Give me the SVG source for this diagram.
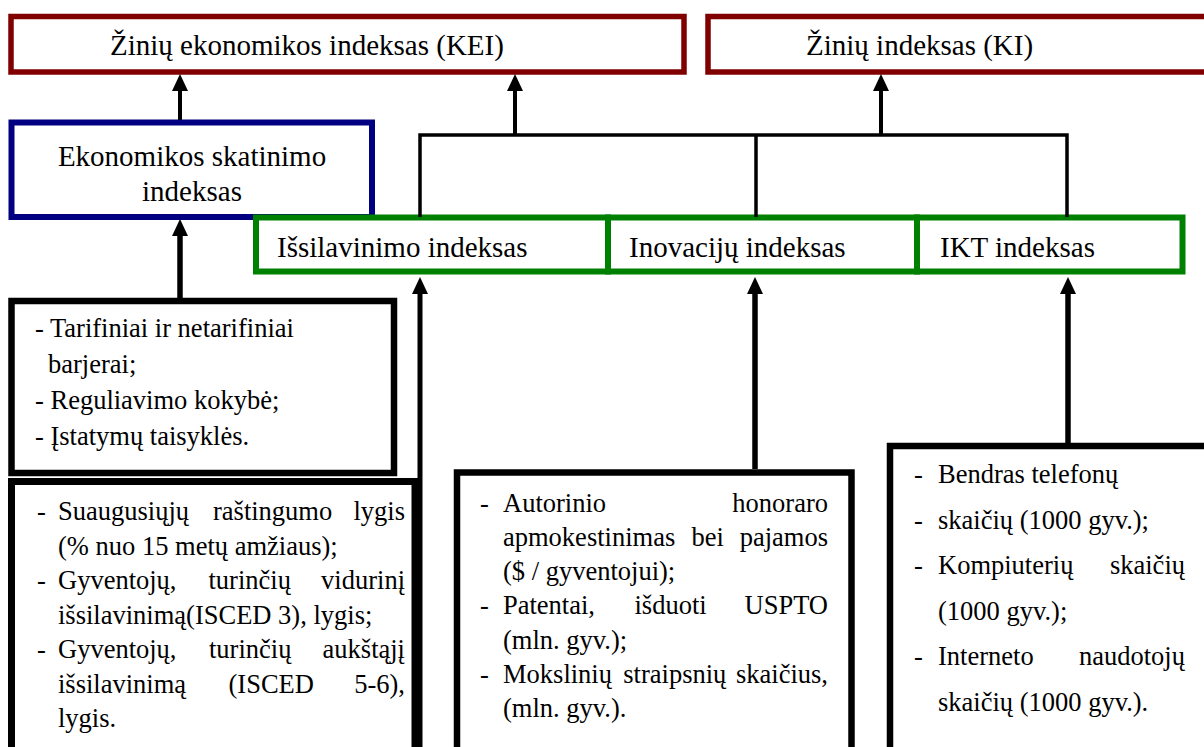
<svg xmlns="http://www.w3.org/2000/svg" width="1204" height="747" viewBox="0 0 1204 747">
<style>
text{font-family:"Liberation Serif","Times New Roman",serif;fill:#000}
.t29{font-size:29px}
.t26{font-size:29px}
.b{font-size:26.5px}
.e{text-anchor:end}
.m{text-anchor:middle}
.red{fill:#fff;stroke:#800000;stroke-width:5.5}
.blue{fill:#fff;stroke:#000080;stroke-width:6}
.green{fill:#fff;stroke:#008000;stroke-width:6}
.blk{fill:#fff;stroke:#000;stroke-width:6.5}
.ln{fill:none;stroke:#000;stroke-linecap:butt}
</style>
<defs>
<marker id="ah" markerUnits="userSpaceOnUse" markerWidth="17" markerHeight="16" refX="0" refY="8" orient="auto" viewBox="0 0 17 16">
<path d="M0,0 L17,8 L0,16 z" fill="#000"/>
</marker>
</defs>
<rect width="1204" height="747" fill="#fff"/>

<g id="kei">
<rect class="red" x="11" y="16.5" width="673" height="55.5"/>
<text class="t29" x="110" y="55">Žinių ekonomikos indeksas (KEI)</text>
</g>
<g id="ki">
<rect class="red" x="708" y="16.5" width="520" height="55.5"/>
<text class="t29" x="806" y="55">Žinių indeksas (KI)</text>
</g>
<g id="ekon">
<rect class="blue" x="11.5" y="122.5" width="360.5" height="94.5"/>
<text class="t26 m" x="192" y="165.5">Ekonomikos skatinimo</text>
<text class="t26 m" x="192" y="201">indeksas</text>
</g>
<g id="issilavinimo">
<rect class="green" x="256" y="217.5" width="352" height="54"/>
<text class="t29" x="277" y="257">Išsilavinimo indeksas</text>
</g>
<g id="inovaciju">
<rect class="green" x="608" y="217.5" width="309" height="54"/>
<text class="t29" x="629" y="257">Inovacijų indeksas</text>
</g>
<g id="ikt">
<rect class="green" x="917" y="217.5" width="265.5" height="54"/>
<text class="t29" x="940" y="257">IKT indeksas</text>
</g>

<g id="tarifiniai">
<rect class="blk" x="11.5" y="301" width="382.5" height="172"/>
<text class="b" x="35" y="337">- Tarifiniai ir netarifiniai</text>
<text class="b" x="48" y="372.5">barjerai;</text>
<text class="b" x="35" y="409">- Reguliavimo kokybė;</text>
<text class="b" x="35" y="445">- Įstatymų taisyklės.</text>
</g>

<g id="suaugusiuju">
<rect class="blk" x="11.5" y="481.5" width="403.5" height="300" style="stroke-width:7"/>
<text class="b" x="37" y="520">-</text>
<text class="b" x="58" y="520">Suaugusiųjų</text>
<text class="b" x="213" y="520">raštingumo</text>
<text class="b e" x="405" y="520">lygis</text>
<text class="b" x="58" y="554.5">(% nuo 15 metų amžiaus);</text>
<text class="b" x="37" y="589">-</text>
<text class="b" x="58" y="589">Gyventojų,</text>
<text class="b" x="208.5" y="589">turinčių</text>
<text class="b e" x="405" y="589">vidurinį</text>
<text class="b" x="58" y="623.5">išsilavinimą(ISCED 3), lygis;</text>
<text class="b" x="37" y="658">-</text>
<text class="b" x="58" y="658">Gyventojų,</text>
<text class="b" x="209" y="658">turinčių</text>
<text class="b e" x="405" y="658">aukštąjį</text>
<text class="b" x="58" y="692.5">išsilavinimą</text>
<text class="b" x="228.5" y="692.5">(ISCED</text>
<text class="b e" x="405" y="692.5">5-6),</text>
<text class="b" x="58" y="727">lygis.</text>
</g>

<g id="autorinio">
<rect class="blk" x="457" y="472.5" width="394.5" height="300"/>
<text class="b" x="480" y="511.5">-</text>
<text class="b" x="503" y="511.5">Autorinio</text>
<text class="b e" x="828" y="511.5">honoraro</text>
<text class="b" x="503" y="545.8">apmokestinimas</text>
<text class="b" x="691.5" y="545.8">bei</text>
<text class="b e" x="828" y="545.8">pajamos</text>
<text class="b" x="503" y="580.1">($ / gyventojui);</text>
<text class="b" x="480" y="614.4">-</text>
<text class="b" x="503" y="614.4">Patentai,</text>
<text class="b" x="634.5" y="614.4">išduoti</text>
<text class="b e" x="828" y="614.4">USPTO</text>
<text class="b" x="503" y="648.7">(mln. gyv.);</text>
<text class="b" x="480" y="683">-</text>
<text class="b" x="503" y="683">Mokslinių</text>
<text class="b" x="623.3" y="683">straipsnių</text>
<text class="b e" x="828" y="683">skaičius,</text>
<text class="b" x="503" y="717.3">(mln. gyv.).</text>
</g>

<g id="bendras">
<rect class="blk" x="890" y="446" width="330" height="330"/>
<text class="b" x="914" y="483">-</text>
<text class="b" x="938" y="483">Bendras telefonų</text>
<text class="b" x="914" y="528.5">-</text>
<text class="b" x="938" y="528.5">skaičių (1000 gyv.);</text>
<text class="b" x="914" y="574">-</text>
<text class="b" x="938" y="574">Kompiuterių</text>
<text class="b e" x="1185" y="574">skaičių</text>
<text class="b" x="938" y="619.5">(1000 gyv.);</text>
<text class="b" x="914" y="665">-</text>
<text class="b" x="938" y="665">Interneto</text>
<text class="b e" x="1185" y="665">naudotojų</text>
<text class="b" x="938" y="710.5">skaičių (1000 gyv.).</text>
</g>

<g id="connectors">
<line class="ln" x1="180" y1="120" x2="180" y2="91" stroke-width="4" marker-end="url(#ah)"/>
<line class="ln" x1="180" y1="298" x2="180" y2="236" stroke-width="5.5" marker-end="url(#ah)"/>
<polyline class="ln" points="420,217 420,135 1067,135 1067,217" stroke-width="3.5" stroke-linejoin="miter"/>
<line class="ln" x1="756" y1="135" x2="756" y2="217" stroke-width="3.5"/>
<line class="ln" x1="515" y1="136" x2="515" y2="91" stroke-width="4" marker-end="url(#ah)"/>
<line class="ln" x1="881" y1="136" x2="881" y2="91" stroke-width="4" marker-end="url(#ah)"/>
<line class="ln" x1="420" y1="747" x2="420" y2="294" stroke-width="5" marker-end="url(#ah)"/>
<line class="ln" x1="755" y1="469" x2="755" y2="294" stroke-width="5.5" marker-end="url(#ah)"/>
<line class="ln" x1="1068" y1="443" x2="1068" y2="294" stroke-width="5.5" marker-end="url(#ah)"/>
</g>
</svg>
